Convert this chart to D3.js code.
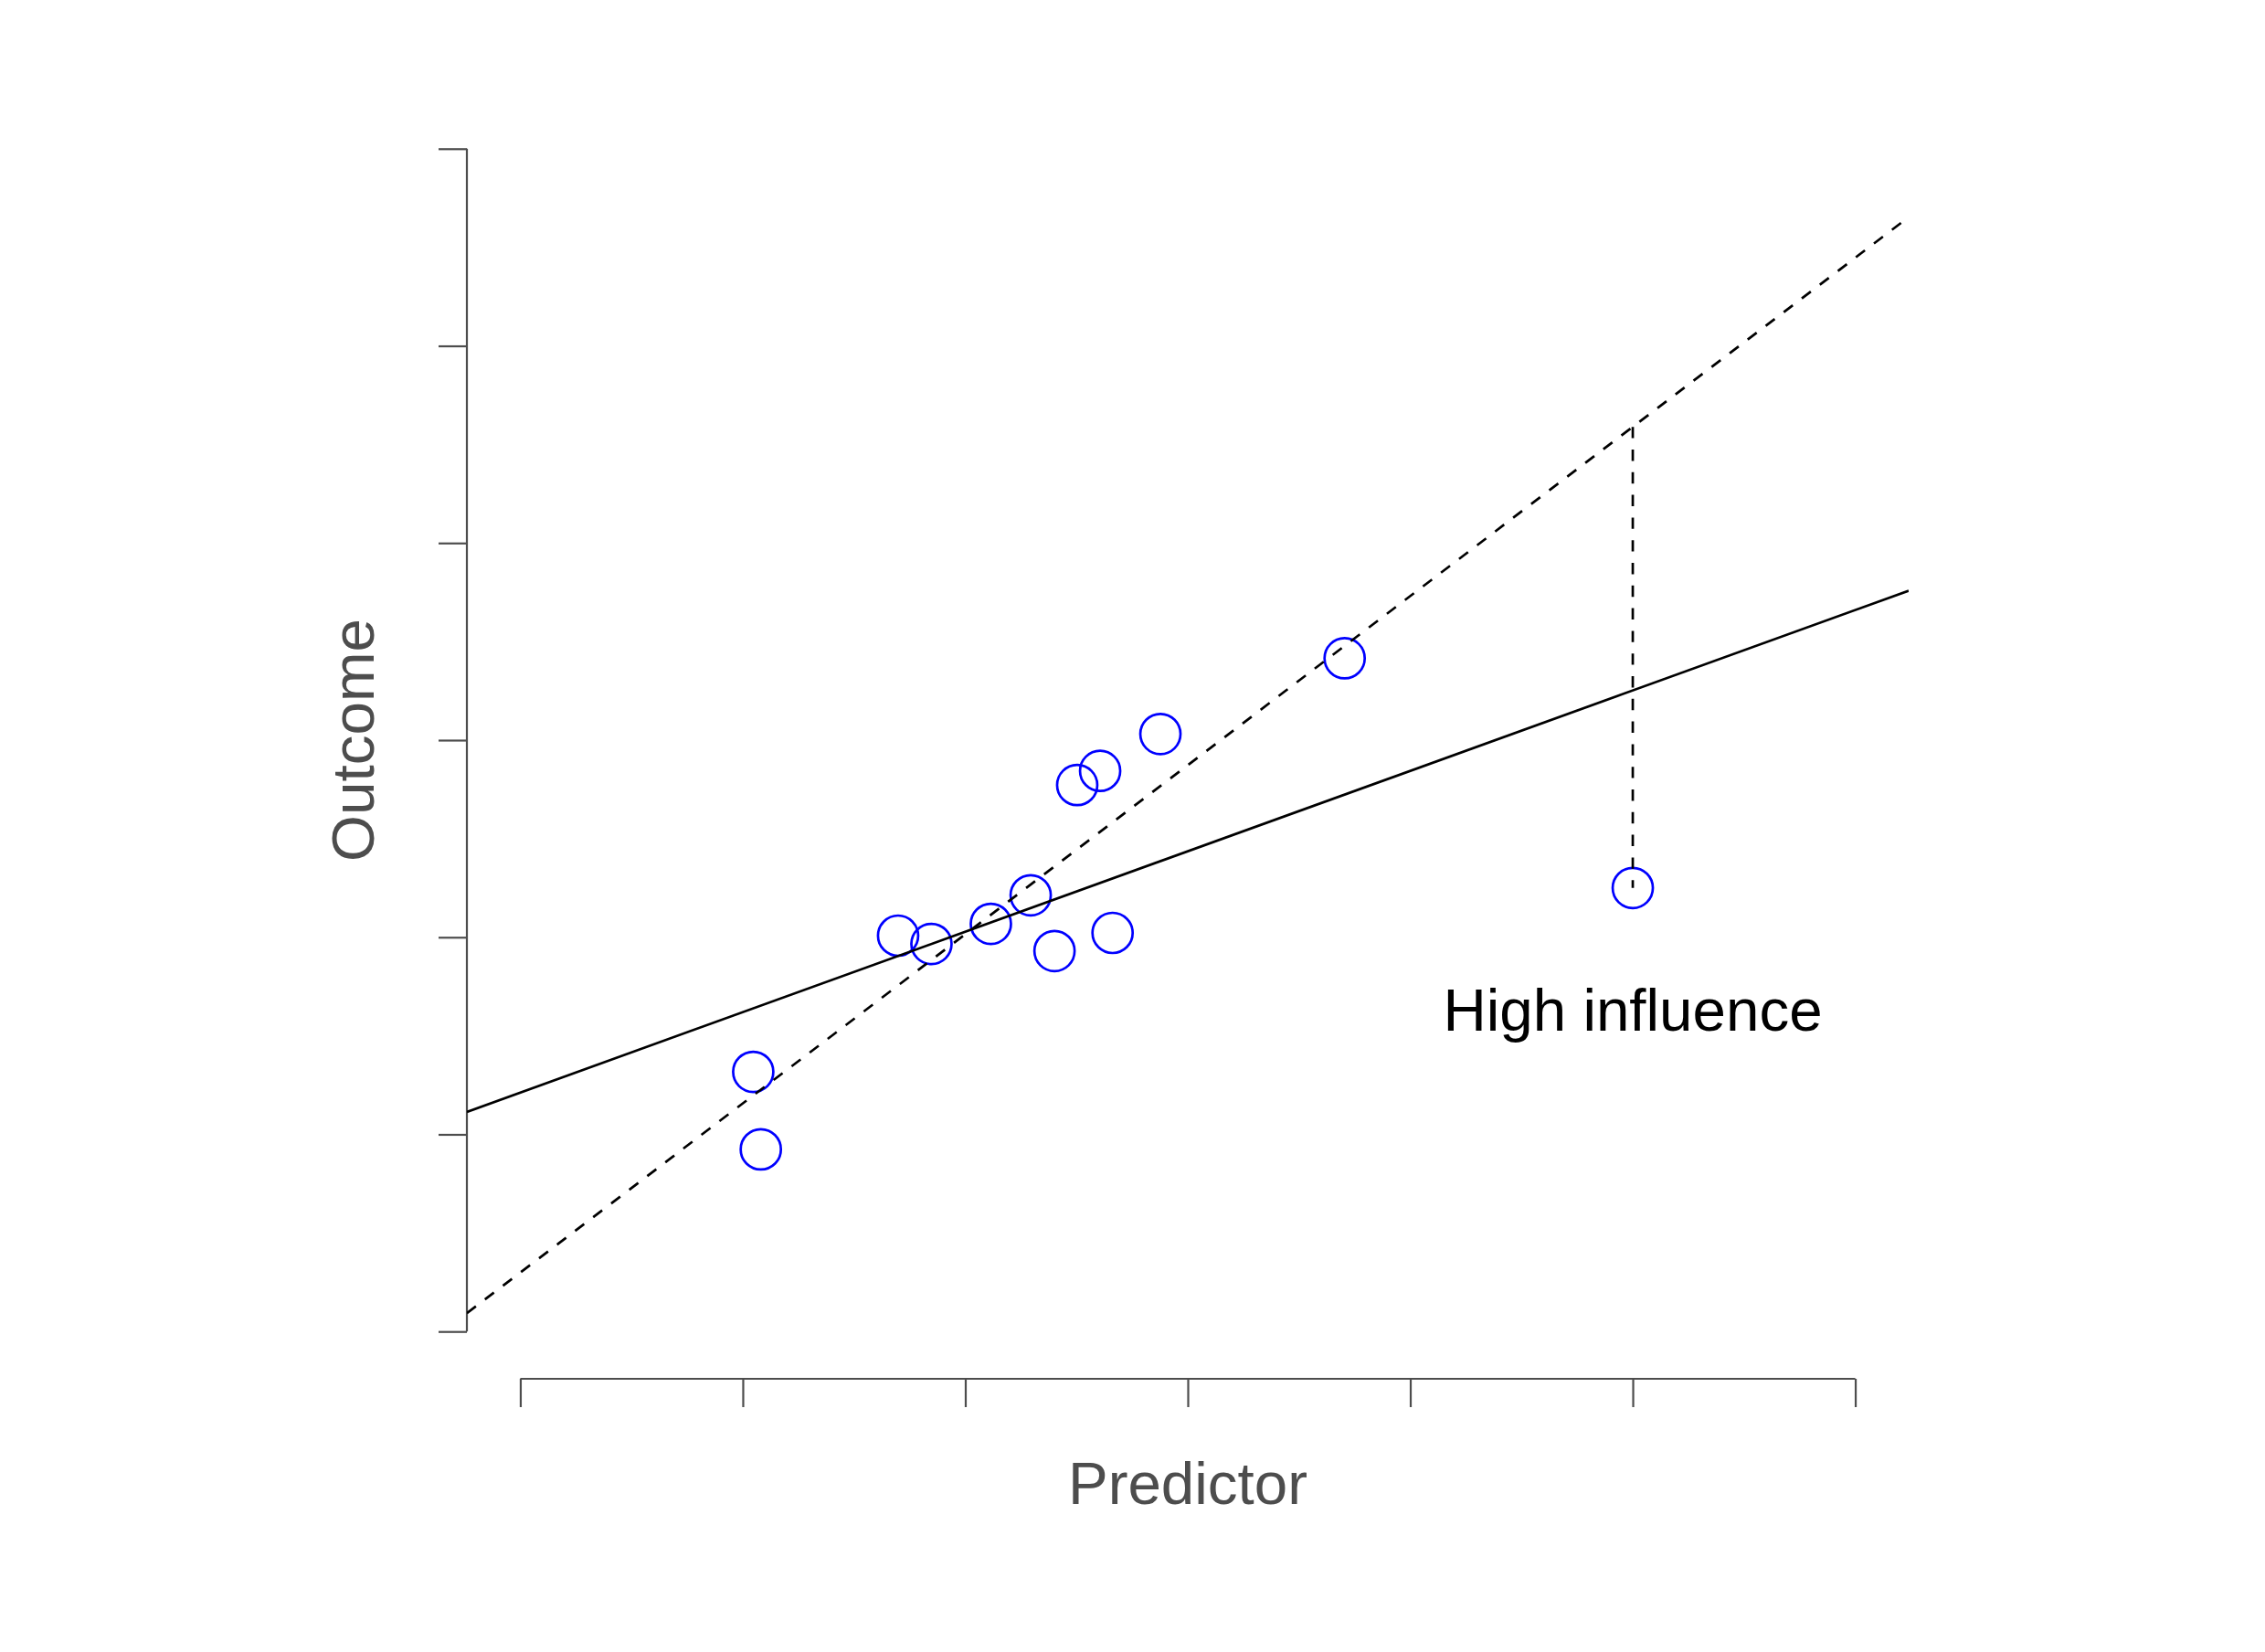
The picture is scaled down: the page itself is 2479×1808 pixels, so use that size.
<!DOCTYPE html>
<html>
<head>
<meta charset="utf-8">
<script src="https://cdn.jsdelivr.net/npm/d3@7"></script>
<style>
  body { margin: 0; background: #ffffff; }
  text { font-family: "Liberation Sans", Arial, Helvetica, sans-serif; }
</style>
</head>
<body>
<div id="chart"></div>
<script>
// data (axis units, ticks 0..6 unlabelled)
var predictor = [1.047, 1.081, 1.698, 1.848, 2.115, 2.294, 2.401, 2.503, 2.606, 2.662, 2.877, 3.705, 5.0];
var outcome   = [1.317, 0.924, 2.008, 1.966, 2.068, 2.213, 1.930, 2.772, 2.844, 2.022, 3.031, 3.415, 2.25];

// fitted lines: all points (solid), without the high influence point (dashed)
var fitNames      = ["all", "without"];
var fitIntercepts = [1.212, 0.299];
var fitSlopes     = [0.408, 0.858];

var xTicks = [0, 1, 2, 3, 4, 5, 6];
var yTicks = [0, 1, 2, 3, 4, 5, 6];

var xLimits = [-0.24, 6.24];
var yLimits = [-0.24, 6.24];

var influenceIndex = 12;
var noteText = "High influence";
var notePos = [5, 1.63];

var xTitle = "Predictor";
var yTitle = "Outcome";

function makeChart() {
  var svgWidth = 2479;
  var svgHeight = 1808;

  // plot region
  var margin = { top: 111, right: 390, bottom: 299, left: 511 };
  var width = svgWidth - margin.left - margin.right;
  var height = svgHeight - margin.top - margin.bottom;

  var svg = d3.select("#chart")
    .append("svg")
    .attr("width", svgWidth)
    .attr("height", svgHeight)
    .style("background", "#ffffff");

  var chartGroup = svg.append("g")
    .attr("transform", `translate(${margin.left}, ${margin.top})`);

  var x = d3.scaleLinear().domain(xLimits).range([0, width]);
  var y = d3.scaleLinear().domain(yLimits).range([height, 0]);

  var axisColor = "#4d4d4d";

  // y axis, line only between first and last tick
  var yAxis = chartGroup.append("g")
    .call(d3.axisLeft(y).tickValues(yTicks).tickFormat("").tickSize(31).tickSizeOuter(0));
  yAxis.select(".domain").remove();
  yAxis.selectAll(".tick line").attr("stroke", axisColor).attr("stroke-width", 2.2);
  yAxis.append("line")
    .attr("x1", 0).attr("x2", 0)
    .attr("y1", y(yTicks[0])).attr("y2", y(yTicks[yTicks.length - 1]))
    .attr("stroke", axisColor).attr("stroke-width", 2.2);

  // x axis
  var xAxis = chartGroup.append("g")
    .attr("transform", `translate(0, ${height})`)
    .call(d3.axisBottom(x).tickValues(xTicks).tickFormat("").tickSize(31).tickSizeOuter(0));
  xAxis.select(".domain").remove();
  xAxis.selectAll(".tick line").attr("stroke", axisColor).attr("stroke-width", 2.2);
  xAxis.append("line")
    .attr("y1", 0).attr("y2", 0)
    .attr("x1", x(xTicks[0])).attr("x2", x(xTicks[xTicks.length - 1]))
    .attr("stroke", axisColor).attr("stroke-width", 2.2);

  // clip for the fit lines
  svg.append("defs").append("clipPath").attr("id", "plotclip")
    .append("rect").attr("x", 0).attr("y", 0).attr("width", width).attr("height", height);

  var points = predictor.map(function(d, i) { return { x: d, y: outcome[i] }; });

  // points
  chartGroup.selectAll("circle.pt")
    .data(points)
    .enter()
    .append("circle")
    .attr("class", "pt")
    .attr("cx", d => x(d.x))
    .attr("cy", d => y(d.y))
    .attr("r", 22)
    .attr("fill", "none")
    .attr("stroke", "#0000ff")
    .attr("stroke-width", 2.7);

  // fit lines across the whole plot region
  var fits = fitNames.map(function(n, i) {
    return { name: n, a: fitIntercepts[i], b: fitSlopes[i] };
  });
  chartGroup.append("g").attr("clip-path", "url(#plotclip)")
    .selectAll("line.fit")
    .data(fits)
    .enter()
    .append("line")
    .attr("class", "fit")
    .attr("x1", x(xLimits[0]))
    .attr("y1", d => y(d.a + d.b * xLimits[0]))
    .attr("x2", x(xLimits[1]))
    .attr("y2", d => y(d.a + d.b * xLimits[1]))
    .attr("stroke", "#000000")
    .attr("stroke-width", 2.7)
    .attr("stroke-dasharray", d => d.name === "without" ? "12.4,12.4" : null);

  // residual of the high influence point against the dashed fit
  var hp = points[influenceIndex];
  var noOut = fits[1];
  chartGroup.append("line")
    .attr("x1", x(hp.x)).attr("x2", x(hp.x))
    .attr("y1", y(noOut.a + noOut.b * hp.x))
    .attr("y2", y(hp.y))
    .attr("stroke", "#000000")
    .attr("stroke-width", 2.7)
    .attr("stroke-dasharray", "12.4,12.4");

  // annotation
  chartGroup.append("text")
    .attr("x", x(notePos[0]))
    .attr("y", y(notePos[1]))
    .attr("dy", "0.35em")
    .attr("text-anchor", "middle")
    .attr("font-size", "65.5px")
    .attr("fill", "#000000")
    .text(noteText);

  // axis titles
  chartGroup.append("text")
    .attr("x", width / 2)
    .attr("y", height + 137)
    .attr("text-anchor", "middle")
    .attr("font-size", "65.5px")
    .attr("fill", axisColor)
    .text(xTitle);

  chartGroup.append("text")
    .attr("transform", `translate(${409 - margin.left}, ${height / 2}) rotate(-90)`)
    .attr("text-anchor", "middle")
    .attr("font-size", "65.5px")
    .attr("fill", axisColor)
    .text(yTitle);
}

makeChart();
</script>
</body>
</html>
